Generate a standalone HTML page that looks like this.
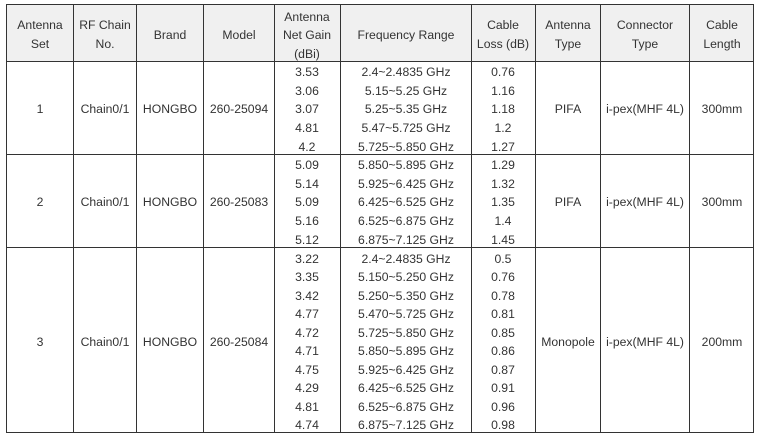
<!DOCTYPE html>
<html><head><meta charset="utf-8"><style>
body{margin:0;background:#fff}
svg{display:block}
text{font-family:"Liberation Sans",Arial,sans-serif;font-size:12.2px;fill:#333;text-anchor:middle}
</style></head><body>
<svg width="762" height="440" viewBox="0 0 762 440">
<rect x="6" y="4" width="748" height="57" fill="#f0f0f0"/>
<g stroke="#333" stroke-width="1">
<line x1="6" y1="4.5" x2="754" y2="4.5"/>
<line x1="6" y1="61.5" x2="754" y2="61.5"/>
<line x1="6" y1="154.5" x2="754" y2="154.5"/>
<line x1="6" y1="247.5" x2="754" y2="247.5"/>
<line x1="6" y1="432.5" x2="754" y2="432.5"/>
<line x1="6.5" y1="4" x2="6.5" y2="433"/>
<line x1="73.5" y1="4" x2="73.5" y2="433"/>
<line x1="136.5" y1="4" x2="136.5" y2="433"/>
<line x1="203.5" y1="4" x2="203.5" y2="433"/>
<line x1="274.5" y1="4" x2="274.5" y2="433"/>
<line x1="340.5" y1="4" x2="340.5" y2="433"/>
<line x1="471.5" y1="4" x2="471.5" y2="433"/>
<line x1="535.5" y1="4" x2="535.5" y2="433"/>
<line x1="600.5" y1="4" x2="600.5" y2="433"/>
<line x1="689.5" y1="4" x2="689.5" y2="433"/>
<line x1="753.5" y1="4" x2="753.5" y2="433"/>
</g>
<text x="40" y="29">Antenna</text><text x="40" y="48">Set</text>
<text x="105" y="29">RF Chain</text><text x="105" y="48">No.</text>
<text x="170" y="39">Brand</text>
<text x="239" y="39">Model</text>
<text x="307" y="21">Antenna</text><text x="307" y="39">Net Gain</text><text x="307" y="58">(dBi)</text>
<text x="406" y="39">Frequency Range</text>
<text x="503" y="29">Cable</text><text x="503" y="48">Loss (dB)</text>
<text x="568" y="29">Antenna</text><text x="568" y="48">Type</text>
<text x="645" y="29">Connector</text><text x="645" y="48">Type</text>
<text x="722" y="29">Cable</text><text x="722" y="48">Length</text>

<text x="40" y="113">1</text><text x="105" y="113">Chain0/1</text><text x="170" y="113">HONGBO</text><text x="239" y="113">260-25094</text>
<text x="568" y="113">PIFA</text><text x="645" y="113">i-pex(MHF 4L)</text><text x="722" y="113">300mm</text>
<text x="307" y="76">3.53</text><text x="406" y="76">2.4~2.4835 GHz</text><text x="503" y="76">0.76</text>
<text x="307" y="95">3.06</text><text x="406" y="95">5.15~5.25 GHz</text><text x="503" y="95">1.16</text>
<text x="307" y="113">3.07</text><text x="406" y="113">5.25~5.35 GHz</text><text x="503" y="113">1.18</text>
<text x="307" y="132">4.81</text><text x="406" y="132">5.47~5.725 GHz</text><text x="503" y="132">1.2</text>
<text x="307" y="151">4.2</text><text x="406" y="151">5.725~5.850 GHz</text><text x="503" y="151">1.27</text>

<text x="40" y="206">2</text><text x="105" y="206">Chain0/1</text><text x="170" y="206">HONGBO</text><text x="239" y="206">260-25083</text>
<text x="568" y="206">PIFA</text><text x="645" y="206">i-pex(MHF 4L)</text><text x="722" y="206">300mm</text>
<text x="307" y="169">5.09</text><text x="406" y="169">5.850~5.895 GHz</text><text x="503" y="169">1.29</text>
<text x="307" y="188">5.14</text><text x="406" y="188">5.925~6.425 GHz</text><text x="503" y="188">1.32</text>
<text x="307" y="206">5.09</text><text x="406" y="206">6.425~6.525 GHz</text><text x="503" y="206">1.35</text>
<text x="307" y="225">5.16</text><text x="406" y="225">6.525~6.875 GHz</text><text x="503" y="225">1.4</text>
<text x="307" y="244">5.12</text><text x="406" y="244">6.875~7.125 GHz</text><text x="503" y="244">1.45</text>

<text x="40" y="346">3</text><text x="105" y="346">Chain0/1</text><text x="170" y="346">HONGBO</text><text x="239" y="346">260-25084</text>
<text x="568" y="346">Monopole</text><text x="645" y="346">i-pex(MHF 4L)</text><text x="722" y="346">200mm</text>
<text x="307" y="263">3.22</text><text x="406" y="263">2.4~2.4835 GHz</text><text x="503" y="263">0.5</text>
<text x="307" y="281">3.35</text><text x="406" y="281">5.150~5.250 GHz</text><text x="503" y="281">0.76</text>
<text x="307" y="300">3.42</text><text x="406" y="300">5.250~5.350 GHz</text><text x="503" y="300">0.78</text>
<text x="307" y="318">4.77</text><text x="406" y="318">5.470~5.725 GHz</text><text x="503" y="318">0.81</text>
<text x="307" y="337">4.72</text><text x="406" y="337">5.725~5.850 GHz</text><text x="503" y="337">0.85</text>
<text x="307" y="355">4.71</text><text x="406" y="355">5.850~5.895 GHz</text><text x="503" y="355">0.86</text>
<text x="307" y="374">4.75</text><text x="406" y="374">5.925~6.425 GHz</text><text x="503" y="374">0.87</text>
<text x="307" y="392">4.29</text><text x="406" y="392">6.425~6.525 GHz</text><text x="503" y="392">0.91</text>
<text x="307" y="411">4.81</text><text x="406" y="411">6.525~6.875 GHz</text><text x="503" y="411">0.96</text>
<text x="307" y="429">4.74</text><text x="406" y="429">6.875~7.125 GHz</text><text x="503" y="429">0.98</text>
</svg>
</body></html>
